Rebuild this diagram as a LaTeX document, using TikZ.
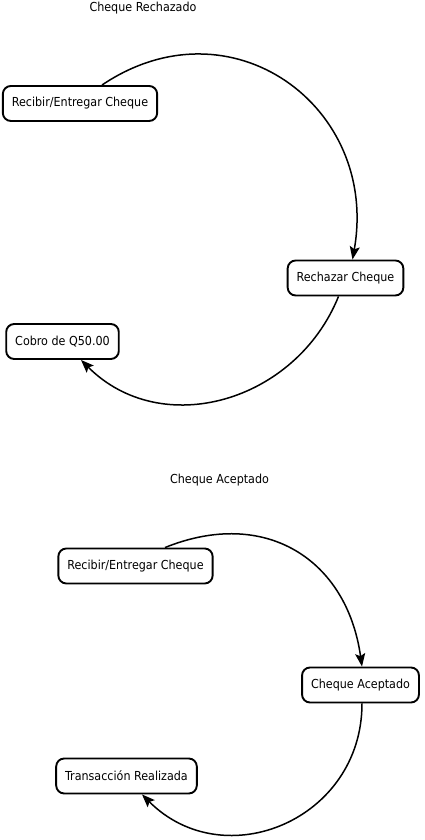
\documentclass[tikz,border=0pt]{standalone}
\usepackage{fontspec}
\setmainfont{DejaVu Sans Condensed}
\usetikzlibrary{arrows.meta}

\begin{document}
\begin{tikzpicture}[x=1pt,y=1pt,>={Stealth[length=13pt,width=10pt,inset=2.5pt]},
    estado/.style={draw,line width=1.9pt,rounded corners=8pt,minimum height=35pt,inner xsep=9pt,font=\fontsize{12.4}{14}\selectfont},
    titulo/.style={font=\fontsize{12.4}{14}\selectfont},
    flujo/.style={->,line width=1.5pt}]
    \useasboundingbox (0,0) rectangle (424,840);
    % cheque rechazado
    \node[titulo](tRech)at(143,832){Cheque Rechazado};
    \node[estado](recibirR)at(80,736.5){Recibir/Entregar Cheque};
    \node[estado](rechazar)at(345.5,562){Rechazar Cheque};
    \node[estado](cobro)at(62.5,498.5){Cobro de Q50.00};
    \draw[flujo]([xshift=22]recibirR.north)to[out=34,in=80,looseness=1.3]([xshift=7]rechazar.north);
    \draw[flujo]([xshift=-7]rechazar.south)to[out=-112,in=-45,looseness=1.1]([xshift=18.5]cobro.south);
    % cheque aceptado
    \node[titulo](tAcep)at(219.5,360){Cheque Aceptado};
    \node[estado](recibirA)at(135.5,274){Recibir/Entregar Cheque};
    \node[estado](aceptado)at(360.5,155){Cheque Aceptado};
    \node[estado](transaccion)at(126.5,64){Transacción Realizada};
    \draw[flujo]([xshift=29.5]recibirA.north)to[out=22,in=98,looseness=1.2]([xshift=1.5]aceptado.north);
    \draw[flujo]([xshift=1.5]aceptado.south)to[out=-90,in=-45,looseness=1.25]([xshift=15.5]transaccion.south);
\end{tikzpicture}
\end{document}
